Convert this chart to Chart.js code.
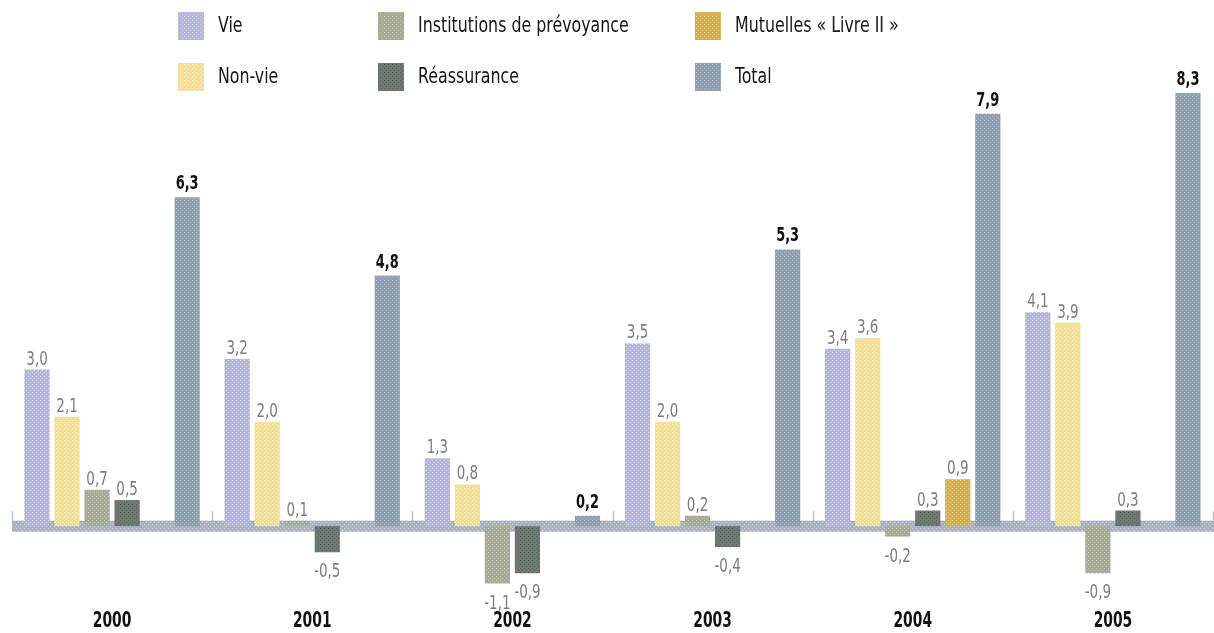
<!DOCTYPE html>
<html lang="fr">
<head>
<meta charset="utf-8">
<title>Contributions par famille d'organismes</title>
<script src="https://cdn.jsdelivr.net/npm/chart.js@4/dist/chart.umd.min.js"></script>
<style>
  html, body { margin: 0; padding: 0; background: #ffffff; }
  canvas { display: block; }
</style>
</head>
<body>
<canvas id="chart" width="1214" height="633"></canvas>
<script>
// Series values per year
const years        = ['2000', '2001', '2002', '2003', '2004', '2005'];
const vie          = [3.0, 3.2, 1.3, 3.5, 3.4, 4.1];
const nonVie       = [2.1, 2.0, 0.8, 2.0, 3.6, 3.9];
const institutions = [0.7, 0.1, -1.1, 0.2, -0.2, -0.9];
const reassurance  = [0.5, -0.5, -0.9, -0.4, 0.3, 0.3];
const mutuelles    = [null, null, null, null, 0.9, null];
const total        = [6.3, 4.8, 0.2, 5.3, 7.9, 8.3];

const seriesNames = ['Vie', 'Non-vie', 'Institutions de prévoyance', 'Réassurance', 'Mutuelles « Livre II »', 'Total'];

const FONT = "'DejaVu Sans Condensed', 'DejaVu Sans', sans-serif";

// Small dotted tile used as a screen-like fill
function texture(base, dot) {
  const c = document.createElement('canvas');
  c.width = 4; c.height = 4;
  const g = c.getContext('2d');
  g.fillStyle = base;
  g.fillRect(0, 0, 4, 4);
  g.fillStyle = dot;
  g.fillRect(0, 0, 1, 1);
  g.fillRect(2, 2, 1, 1);
  return g.createPattern(c, 'repeat');
}

const fills = [
  texture('#b5b5dc', '#d4d4ef'),
  texture('#f5df88', '#fbefbd'),
  texture('#a7ab96', '#c3c6b3'),
  texture('#6f7974', '#59615d'),
  texture('#d5b04d', '#e6c97d'),
  texture('#8ea1b1', '#abbac6')
];
const bandFill = texture('#a9b3bf', '#c7ced6');

const fmt = v => (v < 0 ? '-' : '') + Math.abs(v).toFixed(1).replace('.', ',');

// Text drawn with a horizontal squeeze for the narrow lettering
function narrowText(ctx, text, x, y, sx) {
  ctx.save();
  ctx.translate(x, y);
  ctx.scale(sx, 1);
  ctx.fillText(text, 0, 0);
  ctx.restore();
}

// Zero band and group separators
const zeroBand = {
  id: 'zeroBand',
  beforeDatasetsDraw(chart) {
    const { ctx, chartArea, scales } = chart;
    const y0 = scales.y.getPixelForValue(0);
    ctx.save();
    ctx.fillStyle = bandFill;
    ctx.fillRect(chartArea.left, y0 - 5.5, chart.width - chartArea.left, 11);
    ctx.strokeStyle = '#b9c6d2';
    ctx.lineWidth = 1.5;
    const step = (chartArea.right - chartArea.left) / years.length;
    for (let i = 0; i <= years.length; i++) {
      const x = Math.round(chartArea.left + i * step) + 0.5;
      ctx.beginPath();
      ctx.moveTo(x, y0 - 15);
      ctx.lineTo(x, y0 - 5);
      ctx.stroke();
    }
    ctx.restore();
  }
};

// Value labels above / below each bar
const valueLabels = {
  id: 'valueLabels',
  afterDatasetsDraw(chart) {
    const { ctx } = chart;
    ctx.save();
    ctx.textAlign = 'center';
    ctx.textBaseline = 'alphabetic';
    chart.data.datasets.forEach((ds, di) => {
      const meta = chart.getDatasetMeta(di);
      const isTotal = di === 5;
      ctx.font = (isTotal ? 'bold ' : '') + '20px ' + FONT;
      ctx.fillStyle = isTotal ? '#111111' : '#7d7d7d';
      meta.data.forEach((el, i) => {
        const v = ds.data[i];
        if (v === null || v === undefined) return;
        const y = v >= 0 ? el.y - (isTotal ? 8 : 5) : el.y + 25;
        narrowText(ctx, fmt(v), el.x, y, isTotal ? 0.72 : 0.75);
      });
    });
    ctx.restore();
  }
};

// Year labels under each group, placed by the category scale
const yearLabels = {
  id: 'yearLabels',
  afterDraw(chart) {
    const { ctx, chartArea } = chart;
    const xs = chart.scales.x;
    ctx.save();
    ctx.font = 'bold 22px ' + FONT;
    ctx.fillStyle = '#111111';
    ctx.textAlign = 'center';
    ctx.textBaseline = 'middle';
    xs.ticks.forEach((t, i) => {
      narrowText(ctx, xs.getLabelForValue(t.value), xs.getPixelForTick(i), chartArea.bottom + 16, 0.7);
    });
    ctx.restore();
  }
};

// Legend laid out as a 3 x 2 grid
const gridLegend = {
  id: 'gridLegend',
  afterDraw(chart) {
    const { ctx } = chart;
    const cols = [178, 378, 695];
    const rows = [12, 63];
    ctx.save();
    ctx.font = '22px ' + FONT;
    ctx.textAlign = 'left';
    ctx.textBaseline = 'middle';
    chart.data.datasets.forEach((ds, i) => {
      const x = cols[Math.floor(i / 2)];
      const y = rows[i % 2];
      ctx.fillStyle = ds.backgroundColor;
      ctx.fillRect(x, y, 26, 28);
      ctx.fillStyle = '#151515';
      narrowText(ctx, ds.label, x + 40, y + 14, 0.8);
    });
    ctx.restore();
  }
};

const seriesData = [vie, nonVie, institutions, reassurance, mutuelles, total];

new Chart(document.getElementById('chart'), {
  type: 'bar',
  data: {
    labels: years,
    datasets: seriesData.map((d, i) => ({
      label: seriesNames[i],
      data: d,
      backgroundColor: fills[i],
      borderWidth: 0,
      categoryPercentage: 0.9,
      barPercentage: 0.84
    }))
  },
  options: {
    responsive: false,
    animation: false,
    devicePixelRatio: 1,
    layout: { padding: { top: 60, left: 12, right: 1, bottom: 28 } },
    plugins: {
      legend: { display: false },
      tooltip: { enabled: false }
    },
    scales: {
      x: {
        grid: { display: false, drawTicks: false },
        border: { display: false },
        ticks: { display: false }
      },
      y: {
        display: false,
        min: -1.51,
        max: 8.93
      }
    }
  },
  plugins: [zeroBand, valueLabels, yearLabels, gridLegend]
});
</script>
</body>
</html>
